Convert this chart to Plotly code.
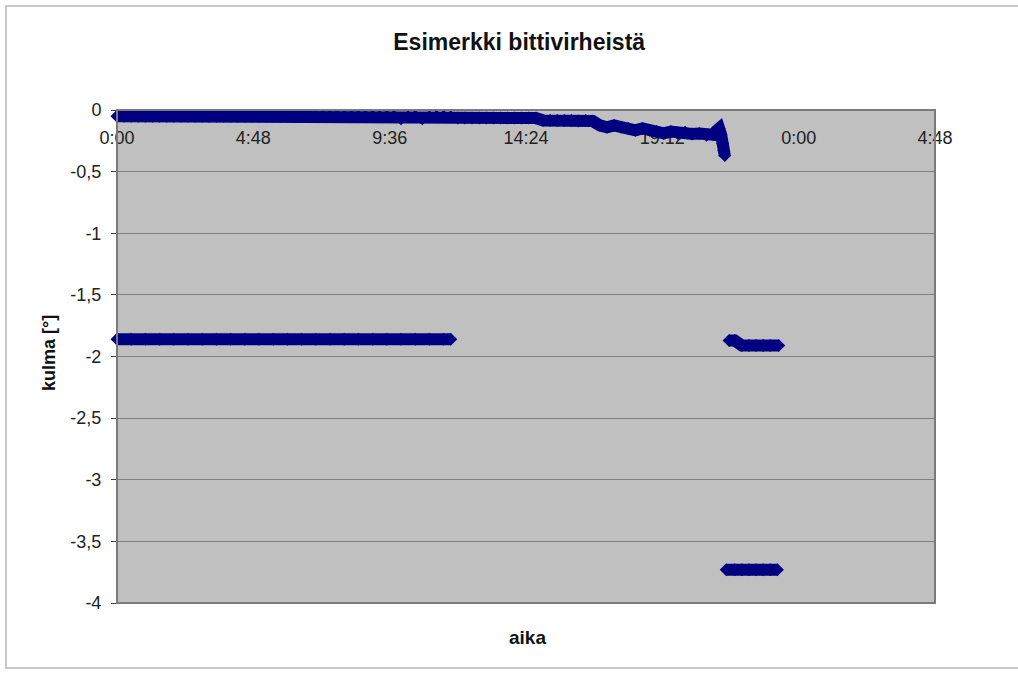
import plotly.graph_objects as go

# Kellonaika tunteina (0 = keskiyö) ja mitattu kulma asteina
tunnit_a = [0.0, 0.25, 0.5, 0.75, 1.0, 1.25, 1.5, 1.75, 2.0, 2.25, 2.5, 2.75,
            3.0, 3.25, 3.5, 3.75, 4.0, 4.25, 4.5, 4.75, 5.0, 5.25, 5.5, 5.75,
            6.0, 6.25, 6.5, 6.75, 7.0, 7.25, 7.5, 7.75, 8.0, 8.25, 8.5, 8.75,
            9.0, 9.25, 9.5, 9.75, 10.0, 10.25, 10.5, 10.75, 11.0, 11.25, 11.5, 11.75,
            12.0, 12.25, 12.5, 12.75, 13.0, 13.25, 13.5, 13.75, 14.0, 14.25, 14.5, 14.75,
            15.0, 15.25, 15.5, 15.75, 16.0, 16.25, 16.5, 16.75,
            17.0, 17.25, 17.5, 17.75, 18.0, 18.25, 18.5, 18.75,
            19.0, 19.25, 19.5, 19.75, 20.0, 20.25, 20.5, 20.75, 21.0,
            21.1, 21.2, 21.27, 21.32, 21.36, 21.4]
kulma_a = [-0.05, -0.05, -0.05, -0.05, -0.05, -0.05, -0.05, -0.05, -0.05, -0.05, -0.05, -0.05,
           -0.05, -0.05, -0.05, -0.05, -0.05, -0.05, -0.05, -0.05, -0.05, -0.05, -0.05, -0.05,
           -0.05, -0.05, -0.05, -0.05, -0.05, -0.05, -0.05, -0.05, -0.05, -0.05, -0.05, -0.05,
           -0.05, -0.05, -0.05, -0.05, -0.07, -0.055, -0.05, -0.07, -0.055, -0.05, -0.05, -0.055,
           -0.065, -0.065, -0.065, -0.065, -0.065, -0.065, -0.065, -0.065, -0.065, -0.065, -0.065, -0.065,
           -0.085, -0.085, -0.085, -0.085, -0.085, -0.09, -0.085, -0.09,
           -0.125, -0.14, -0.125, -0.14, -0.15, -0.165, -0.15, -0.165,
           -0.175, -0.19, -0.175, -0.19, -0.18, -0.195, -0.19, -0.205, -0.2,
           -0.17, -0.15, -0.2, -0.27, -0.33, -0.37]

tunnit_b = [0.0, 0.5, 1.0, 1.5, 2.0, 2.5, 3.0, 3.5, 4.0, 4.5, 5.0, 5.5,
            6.0, 6.5, 7.0, 7.5, 8.0, 8.5, 9.0, 9.5, 10.0, 10.5, 11.0, 11.5, 11.75]
kulma_b = [-1.86, -1.86, -1.86, -1.86, -1.86, -1.86, -1.86, -1.86, -1.86, -1.86, -1.86, -1.86,
           -1.86, -1.86, -1.86, -1.86, -1.86, -1.86, -1.86, -1.86, -1.86, -1.86, -1.86, -1.86, -1.86]

tunnit_c = [21.55, 21.75, 22.0, 22.25, 22.5, 22.75, 23.0, 23.3]
kulma_c = [-1.87, -1.87, -1.91, -1.91, -1.91, -1.91, -1.91, -1.91]

tunnit_d = [21.45, 21.75, 22.0, 22.25, 22.5, 22.75, 23.0, 23.25]
kulma_d = [-3.73, -3.73, -3.73, -3.73, -3.73, -3.73, -3.73, -3.73]

x_tick_arvot = [0, 4.8, 9.6, 14.4, 19.2, 24.0, 28.8]
x_tick_tekstit = ["0:00", "4:48", "9:36", "14:24", "19:12", "0:00", "4:48"]
y_tick_arvot = [0, -0.5, -1, -1.5, -2, -2.5, -3, -3.5, -4]
y_tick_tekstit = ["0", "-0,5", "-1", "-1,5", "-2", "-2,5", "-3", "-3,5", "-4"]

VARI = "#000080"
FONTTI = "Liberation Sans, Arial, sans-serif"

fig = go.Figure()
for tx, ky in [(tunnit_a, kulma_a), (tunnit_b, kulma_b), (tunnit_c, kulma_c), (tunnit_d, kulma_d)]:
    fig.add_trace(go.Scatter(
        x=tx, y=ky, mode="lines+markers",
        line=dict(color=VARI, width=12),
        marker=dict(symbol="diamond", size=10, color=VARI, line=dict(width=0)),
        cliponaxis=False, showlegend=False,
    ))

fig.update_layout(
    width=1018, height=675,
    margin=dict(l=117, r=83, t=110, b=72),
    paper_bgcolor="white", plot_bgcolor="#c0c0c0",
    font=dict(family=FONTTI, color="#111111", size=18),
    title=dict(text="<b>Esimerkki bittivirheistä</b>", x=0.51, xanchor="center",
               y=1 - 42 / 675, yanchor="middle", font=dict(size=23, color="#111111")),
    xaxis=dict(range=[0, 28.8], side="top", tickmode="array",
               tickvals=x_tick_arvot, ticktext=x_tick_tekstit,
               ticklabelposition="inside", ticklabeloverflow="allow", ticklabelstandoff=22,
               showgrid=False, zeroline=False, showline=True, linecolor="#808080",
               linewidth=1, ticks="", layer="below traces",
               tickfont=dict(size=18, color="#222222")),
    yaxis=dict(range=[-4, 0], tickmode="array",
               tickvals=y_tick_arvot, ticktext=y_tick_tekstit,
               showgrid=True, gridcolor="#808080", gridwidth=1,
               zeroline=False, showline=True, linecolor="#404040", linewidth=1,
               ticks="outside", ticklen=5, tickcolor="#404040", ticklabelstandoff=6,
               layer="below traces", tickfont=dict(size=18, color="#222222")),
    annotations=[
        dict(text="<b>aika</b>", xref="paper", yref="paper", x=(527 - 117) / 818,
             y=(603 - 637) / 493, xanchor="center", yanchor="middle",
             showarrow=False, font=dict(size=19)),
        dict(text="<b>kulma [°]</b>", xref="paper", yref="paper", x=(49 - 117) / 818,
             y=(603 - 353) / 493, xanchor="center", yanchor="middle", textangle=-90,
             showarrow=False, font=dict(size=18)),
    ],
    shapes=[
        dict(type="rect", xref="paper", yref="paper", x0=0, y0=0, x1=1, y1=1,
             line=dict(color="#7a7a7a", width=2), layer="above"),
        dict(type="rect", xref="paper", yref="paper",
             x0=(6 - 117) / 818, y0=(603 - 668) / 493, x1=(1030 - 117) / 818, y1=(603 - 6) / 493,
             line=dict(color="#c8c8c8", width=2), layer="above"),
    ],
)

fig.write_html("out.html")
